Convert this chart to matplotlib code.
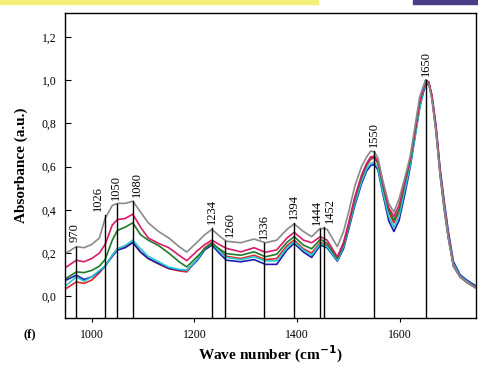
import numpy as np
import matplotlib
matplotlib.use("Agg")
import matplotlib.pyplot as plt
from matplotlib.ticker import FuncFormatter
from matplotlib.patches import Rectangle

# Wave numbers (cm-1) and absorbance
wn = [950, 970, 985, 1000, 1015, 1026, 1040, 1050, 1065, 1080, 1095, 1110, 1130,
      1150, 1170, 1185, 1205, 1220, 1234, 1248, 1262, 1290, 1316, 1338, 1360, 1380,
      1394, 1412, 1428, 1445, 1458,
      1478, 1490, 1500, 1512, 1525, 1535, 1543, 1550, 1557, 1566, 1578, 1588, 1598,
      1610, 1620, 1630, 1638, 1645, 1650, 1656, 1662, 1670, 1678, 1686, 1694, 1704,
      1717, 1730, 1750]

gray = [0.20, 0.23, 0.225, 0.24, 0.27, 0.36, 0.42, 0.43, 0.43, 0.44, 0.39, 0.34, 0.30,
        0.27, 0.23, 0.205, 0.25, 0.285, 0.31, 0.28, 0.255, 0.248, 0.265, 0.248, 0.26, 0.31,
        0.335, 0.30, 0.276, 0.315, 0.31,
        0.23, 0.30, 0.39, 0.51, 0.60, 0.645, 0.672, 0.668, 0.64, 0.54, 0.43, 0.39, 0.45,
        0.555, 0.65, 0.80, 0.92, 0.97, 1.0, 0.98, 0.91, 0.76, 0.56, 0.41, 0.27, 0.14,
        0.09, 0.065, 0.035]
magenta = [0.135, 0.167, 0.16, 0.175, 0.20, 0.24, 0.33, 0.355, 0.36, 0.38, 0.32, 0.27, 0.245,
           0.225, 0.19, 0.165, 0.21, 0.24, 0.26, 0.24, 0.222, 0.206, 0.225, 0.204, 0.215, 0.27,
           0.296, 0.26, 0.248, 0.276, 0.26,
           0.183, 0.25, 0.34, 0.46, 0.56, 0.615, 0.645, 0.648, 0.625, 0.53, 0.41, 0.37, 0.42,
           0.54, 0.64, 0.78, 0.90, 0.96, 0.995, 0.99, 0.93, 0.78, 0.58, 0.42, 0.28, 0.14,
           0.09, 0.065, 0.035]
green = [0.083, 0.113, 0.11, 0.12, 0.14, 0.17, 0.26, 0.305, 0.32, 0.34, 0.285, 0.26, 0.235,
         0.20, 0.16, 0.136, 0.183, 0.22, 0.245, 0.22, 0.198, 0.19, 0.206, 0.183, 0.195, 0.25,
         0.276, 0.237, 0.22, 0.264, 0.245,
         0.175, 0.24, 0.33, 0.45, 0.55, 0.61, 0.64, 0.645, 0.62, 0.52, 0.40, 0.353, 0.40,
         0.53, 0.63, 0.77, 0.89, 0.96, 1.0, 0.99, 0.92, 0.76, 0.56, 0.40, 0.27, 0.14,
         0.09, 0.065, 0.04]
cyan = [0.05, 0.09, 0.07, 0.09, 0.12, 0.14, 0.19, 0.22, 0.235, 0.26, 0.22, 0.185, 0.16,
        0.135, 0.125, 0.12, 0.17, 0.22, 0.245, 0.21, 0.18, 0.17, 0.183, 0.163, 0.165, 0.225,
        0.253, 0.214, 0.19, 0.245, 0.23,
        0.167, 0.23, 0.32, 0.43, 0.53, 0.59, 0.615, 0.62, 0.595, 0.49, 0.37, 0.32, 0.37,
        0.50, 0.61, 0.75, 0.87, 0.95, 0.99, 0.985, 0.92, 0.77, 0.57, 0.42, 0.28, 0.15,
        0.095, 0.07, 0.04]
blue = [0.075, 0.098, 0.078, 0.09, 0.115, 0.14, 0.185, 0.214, 0.225, 0.248, 0.205, 0.175, 0.152,
        0.13, 0.122, 0.12, 0.165, 0.215, 0.237, 0.20, 0.167, 0.16, 0.17, 0.148, 0.148, 0.215,
        0.245, 0.205, 0.18, 0.237, 0.225,
        0.163, 0.22, 0.31, 0.42, 0.52, 0.58, 0.605, 0.61, 0.585, 0.48, 0.35, 0.30, 0.35,
        0.48, 0.60, 0.75, 0.87, 0.94, 0.98, 0.98, 0.93, 0.79, 0.59, 0.44, 0.30, 0.16,
        0.10, 0.075, 0.045]
red = [0.036, 0.067, 0.06, 0.075, 0.11, 0.14, 0.19, 0.22, 0.23, 0.25, 0.205, 0.175, 0.15,
       0.128, 0.118, 0.113, 0.17, 0.225, 0.25, 0.215, 0.185, 0.175, 0.19, 0.17, 0.175, 0.235,
       0.26, 0.22, 0.20, 0.25, 0.235,
       0.172, 0.24, 0.33, 0.45, 0.55, 0.605, 0.635, 0.64, 0.615, 0.51, 0.39, 0.34, 0.39,
       0.52, 0.63, 0.77, 0.89, 0.96, 1.0, 0.99, 0.92, 0.77, 0.57, 0.41, 0.27, 0.14,
       0.09, 0.065, 0.035]

# marked bands and the height where each marker line stops
peaks = [970, 1026, 1050, 1080, 1234, 1260, 1336, 1394, 1444, 1452, 1550, 1650]
peak_tops = [0.23, 0.377, 0.428, 0.44, 0.316, 0.256, 0.248, 0.338, 0.31, 0.32, 0.67, 1.0]

series = [(red, "#e3262a"), (blue, "#1c1caa"), (cyan, "#27c9d2"),
          (green, "#1f7a2a"), (magenta, "#d81b6a"), (gray, "#8a8a8a")]

# label x shift in points
label_dx = [-1, -5, -1, 3, 0, 3, 0, 0, -2, 4, 0, 0]

plt.rcParams['font.family'] = ['Liberation Serif', 'DejaVu Serif']

fig = plt.figure(figsize=(4.78, 3.67), dpi=100)
ax = fig.add_axes([0.136, 0.1335, 0.86, 0.831])

for vals, col in series:
    ax.plot(wn, vals, color=col, lw=1.2)

for p, top, dx in zip(peaks, peak_tops, label_dx):
    ax.plot([p, p], [-0.1, top], color="black", lw=1.0)
    ax.annotate(str(p), (p, top), xytext=(dx, 3), textcoords="offset points",
                rotation=90, ha="center", va="bottom", fontsize=9)

ax.set_xlim(948, 1748)
ax.set_ylim(-0.1, 1.31)
ax.set_xticks([1000, 1200, 1400, 1600])
ax.set_yticks([0.0, 0.2, 0.4, 0.6, 0.8, 1.0, 1.2])
ax.yaxis.set_major_formatter(FuncFormatter(lambda v, pos: f"{v:.1f}".replace(".", ",")))
ax.tick_params(axis="x", direction="out", length=3, labelsize=8.5, pad=5)
ax.tick_params(axis="y", direction="in", length=4, labelsize=8.5, pad=6)
for s in ax.spines.values():
    s.set_linewidth(1.0)

ax.set_xlabel("Wave number (cm$^{\\mathbf{-1}}$)", fontsize=11, fontweight="bold", labelpad=2)
ax.set_ylabel("Absorbance (a.u.)", fontsize=11, fontweight="bold", labelpad=10)
fig.text(30 / 478, 1 - 334 / 367, "(f)", fontsize=9, fontweight="bold", ha="center", va="center")

# slide decoration strips at the top edge
fig.patches.append(Rectangle((0, 1 - 4 / 367), 318 / 478, 4 / 367, transform=fig.transFigure,
                             color="#f4ef78", zorder=0))
fig.patches.append(Rectangle((413 / 478, 1 - 4 / 367), 65 / 478, 4 / 367, transform=fig.transFigure,
                             color="#4a3d88", zorder=0))

fig.savefig("out.png", dpi=100)
